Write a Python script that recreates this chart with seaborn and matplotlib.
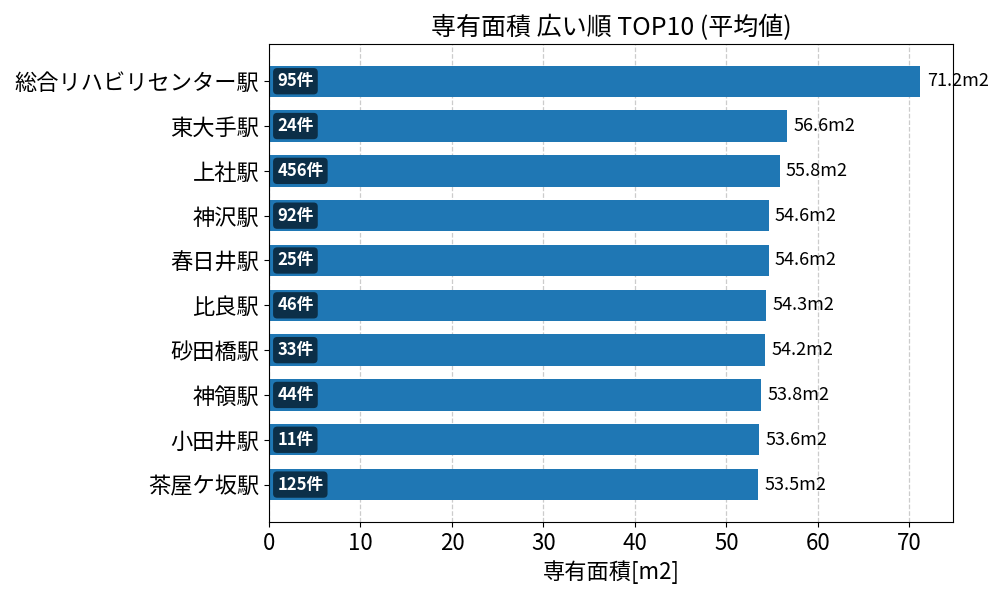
import matplotlib
matplotlib.use("Agg")
import matplotlib.pyplot as plt
import seaborn as sns
import pandas as pd

STATIONS = ["総合リハビリセンター駅", "東大手駅", "上社駅", "神沢駅", "春日井駅",
            "比良駅", "砂田橋駅", "神領駅", "小田井駅", "茶屋ケ坂駅"]
AREAS = [71.2, 56.6, 55.8, 54.6, 54.6, 54.3, 54.2, 53.8, 53.6, 53.5]
COUNTS = [95, 24, 456, 92, 25, 46, 33, 44, 11, 125]

df = pd.DataFrame({"station": STATIONS, "area": AREAS, "count": COUNTS})

sns.set_theme(style="ticks", rc={
    "text.color": "black", "axes.labelcolor": "black",
    "xtick.color": "black", "ytick.color": "black", "axes.edgecolor": "black",
    "xtick.major.size": 3.5, "ytick.major.size": 3.5,
    "xtick.major.width": 0.8, "ytick.major.width": 0.8, "axes.linewidth": 0.8,
})
plt.rcParams["font.family"] = ["Noto Sans CJK JP", "DejaVu Sans"]

fig, ax = plt.subplots(figsize=(10, 6), dpi=100)
sns.barplot(data=df, x="area", y="station", color="#1f77b4", saturation=1,
            width=0.7, orient="h", ax=ax, zorder=2, linewidth=0)

# matplotlibのデフォルト余白に合わせる
n = len(df)
pad = (n - 1 + 0.7) * 0.05
ax.set_ylim(n - 1 + 0.35 + pad, -0.35 - pad)
ax.set_xlim(0, max(AREAS) * 1.05)

ax.grid(axis="x", linestyle="--", color="#cccccc", linewidth=0.9, zorder=0)
ax.set_axisbelow(True)

for i, (v, c) in enumerate(zip(AREAS, COUNTS)):
    ax.text(v + 0.7, i, f"{v:.1f}m2", va="center", ha="left", fontsize=13)
    ax.text(0.9, i, f"{c}件", va="center", ha="left", fontsize=12,
            color="white", fontweight="bold",
            bbox=dict(boxstyle="round,pad=0.25", fc="black", ec="none", alpha=0.6))

ax.set_title("専有面積 広い順 TOP10 (平均値)", fontsize=18)
ax.set_xlabel("専有面積[m2]", fontsize=16)
ax.set_ylabel("")
ax.tick_params(axis="y", labelsize=16)
ax.tick_params(axis="x", labelsize=16)
for s in ax.spines.values():
    s.set_visible(True)
    s.set_color("black")

fig.subplots_adjust(left=0.269, right=0.953, top=0.927, bottom=0.13)
plt.savefig("out.png", dpi=100)
